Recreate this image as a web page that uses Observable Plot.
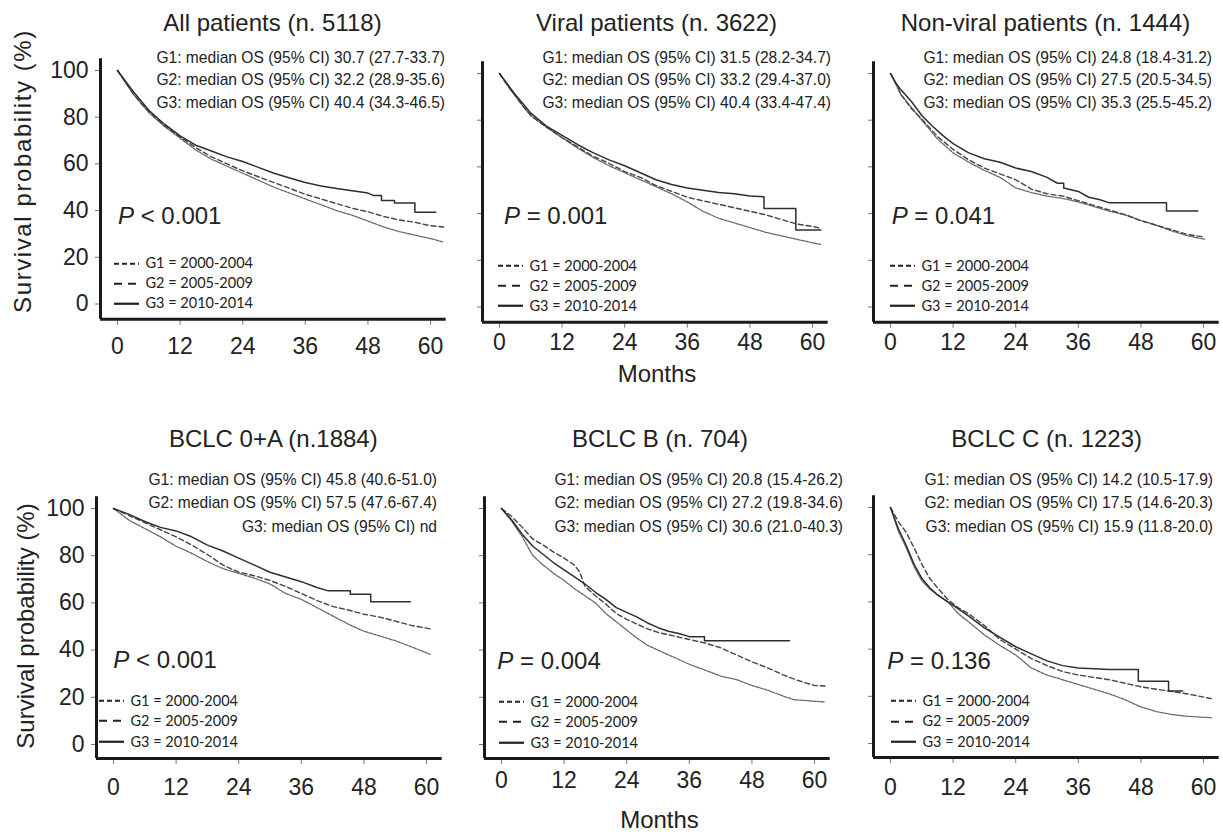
<!DOCTYPE html>
<html><head><meta charset="utf-8">
<script src="https://cdn.jsdelivr.net/npm/d3@7"></script>
<script src="https://cdn.jsdelivr.net/npm/@observablehq/plot@0.6"></script>
<style>
body{margin:0;background:#fff;}
#fig{position:relative;width:1223px;height:834px;overflow:hidden;background:#fff;font-family:"Liberation Sans",Arial,Helvetica,sans-serif;color:#222;}
.abs{position:absolute;white-space:nowrap;line-height:1;}
.c{transform:translate(-50%,-50%);}
.r{transform:translate(-100%,-50%) scaleY(1.1);transform-origin:100% 50%;}
.l{transform:translate(0,-50%);}
.panel{position:absolute;}
.panel svg{overflow:visible;max-width:none;}
.leg{position:absolute;white-space:nowrap;line-height:1;font-family:Lato,"Open Sans",sans-serif;font-size:14.5px;color:#222;transform:translate(0,-50%);}
.leg svg{position:absolute;left:0;top:50%;transform:translate(0,-50%);overflow:visible;}
</style></head><body><div id="fig"></div>
<script>
// ---------------- data ----------------
const monthTicks = [0, 12, 24, 36, 48, 60];
const survivalTicks = [0, 20, 40, 60, 80, 100];
const groups = ["G1", "G2", "G3"];
const legendLabels = ["G1 = 2000-2004", "G2 = 2005-2009", "G3 = 2010-2014"];
const titles = ["All patients (n. 5118)", "Viral patients (n. 3622)", "Non-viral patients (n. 1444)",
  "BCLC 0+A (n.1884)", "BCLC B (n. 704)", "BCLC C (n. 1223)"];
const pValues = ["< 0.001", "= 0.001", "= 0.041", "< 0.001", "= 0.004", "= 0.136"];
const medianTexts = [
  ["G1: median OS (95% CI) 30.7 (27.7-33.7)", "G2: median OS (95% CI) 32.2 (28.9-35.6)", "G3: median OS (95% CI) 40.4 (34.3-46.5)"],
  ["G1: median OS (95% CI) 31.5 (28.2-34.7)", "G2: median OS (95% CI) 33.2 (29.4-37.0)", "G3: median OS (95% CI) 40.4 (33.4-47.4)"],
  ["G1: median OS (95% CI) 24.8 (18.4-31.2)", "G2: median OS (95% CI) 27.5 (20.5-34.5)", "G3: median OS (95% CI) 35.3 (25.5-45.2)"],
  ["G1: median OS (95% CI) 45.8 (40.6-51.0)", "G2: median OS (95% CI) 57.5 (47.6-67.4)", "G3: median OS (95% CI) nd"],
  ["G1: median OS (95% CI) 20.8 (15.4-26.2)", "G2: median OS (95% CI) 27.2 (19.8-34.6)", "G3: median OS (95% CI) 30.6 (21.0-40.3)"],
  ["G1: median OS (95% CI) 14.2 (10.5-17.9)", "G2: median OS (95% CI) 17.5 (14.6-20.3)", "G3: median OS (95% CI) 15.9 (11.8-20.0)"]
];
const yAxisLabel = "Survival probability (%)";
const xAxisLabel = "Months";

// [month, survival %]
const allG1 = [[0,100],[1.5,95],[3,90],[4.5,86],[6,82],[9,76],[12,71],[15,66],[18,62],[21,59],[24,56],[27,53],[30,50],[33,47.5],[36,45],[39,42.5],[42,40],[45,38],[48,35.5],[51,33],[54,31],[57,29.5],[60,28],[62.5,26.5]];
const allG2 = [[0,100],[1.5,95],[3,90],[4.5,86],[6,82.5],[9,76.5],[12,71.5],[15,67],[18,63],[21,60],[24,57],[27,54.5],[30,52],[33,49.5],[36,47],[39,45],[42,43],[45,41],[48,39.5],[51,37.5],[54,36],[57,35],[60,33.5],[62.5,33]];
const allG3 = [[0,100],[1.5,95.5],[3,91],[4.5,87],[6,83],[9,77],[12,72],[15,68],[18,65.5],[21,63],[24,61],[27,58.5],[30,56],[33,54],[36,52],[39,50.5],[42,49.5],[45,48.5],[48,47.5],[49,46.5],[50.6,46.5],[50.6,44.3],[53.1,44.3],[53.1,43.3],[57,43.3],[57,39.3],[61,39.3]];

const viralG1 = [[0,100],[1.5,95],[3,90.5],[4.5,86],[6,82],[9,77],[12,72.5],[15,68],[18,64],[21,60.5],[24,57.5],[27,54.5],[30,51.5],[33,48.5],[36,45],[39,41],[42,38],[45,36],[48,34],[51,32],[54,30.5],[57,29],[60,27.5],[61.6,26.8]];
const viralG2 = [[0,100],[1.5,95],[3,90.5],[4.5,86],[6,82],[9,77],[12,72.5],[15,68.5],[18,64.5],[21,61.5],[24,58],[27,55.5],[30,52],[33,49.5],[36,47],[39,45.5],[42,44],[45,42.5],[48,41],[51,39.5],[54,37.5],[57,35.5],[60,34.5],[61.6,33.7]];
const viralG3 = [[0,100],[1.5,95.5],[3,91],[4.5,87],[6,83],[9,77.5],[12,73.5],[15,69.5],[18,66],[21,63],[24,60.5],[27,57.5],[30,54.5],[33,52.5],[36,51],[39,50],[42,49],[45,48.5],[48,47.5],[50.7,47.2],[50.7,42.2],[56.8,42.2],[56.8,33],[61.6,33]];

const nonViralG1 = [[0,100],[1,95.5],[2,91],[4,85.5],[6,80],[9,72],[12,66],[15,62],[18,58.5],[21,55.5],[24,51],[27,49],[30,47.5],[33,46.5],[36,45],[39,43],[42,41],[45,39.5],[48,37],[51,35],[54,32.5],[57,30.5],[60.2,29]];
const nonViralG2 = [[0,100],[1,96],[2,91],[4,85],[6,80.5],[9,73],[12,67.5],[15,63],[18,59.5],[21,57],[24,54.5],[27,50.5],[30,48.5],[33,47.5],[36,45.5],[39,43.5],[42,41.5],[45,39.5],[48,37],[51,35],[54,33],[57,31],[60.2,30]];
const nonViralG3 = [[0,100],[1,96],[2,93],[4,88],[6,82],[8,77.5],[10,73.5],[12,70],[15,66],[18,63.5],[21,62],[24,59.5],[27,58],[30,55.5],[32,53],[33.2,53],[33.2,51],[36,49.5],[38,47],[40,46],[42,44.6],[52.9,44.6],[52.9,41.1],[58.9,41.1]];

const bclcAG1 = [[0,100],[3,95],[6,91.5],[9,88],[12,84],[15,81],[18,77.5],[21,74.5],[24,72.5],[27,70.5],[30,68],[33,64],[36,61.5],[39,58],[42,54.5],[45,51],[48,48],[51,46],[54,44],[57,41.5],[60.7,38.2]];
const bclcAG2 = [[0,100],[3,97],[6,94],[9,91],[12,88],[15,84.5],[18,80.5],[21,76],[24,73],[27,71.5],[30,69.5],[33,67],[36,64],[39,61],[42,58.5],[45,57],[48,55.2],[51,54],[54,52.3],[57,50.5],[60.7,49]];
const bclcAG3 = [[0,100],[3,97.5],[6,94.5],[9,92],[12,90.5],[15,88],[18,84.5],[21,82],[24,79],[27,76],[30,73],[33,71],[36,69],[39,66.5],[41.2,65.1],[45.4,65.1],[45.4,63.7],[49.3,63.7],[49.3,60.5],[56.9,60.5]];

const bclcBG1 = [[0,100],[2,94.5],[4,88],[6,80],[8,76],[10,72.5],[12,69.5],[14,66],[16,63],[18,60],[20,55.5],[22,52],[24,48.5],[26,45],[28,42],[30,40],[33,37],[36,34],[39,31.5],[42,29],[45,27.5],[48,25],[51,23],[54,20.5],[56,19],[62,18]];
const bclcBG2 = [[0,100],[2,96.5],[4,92],[6,87],[8,84.5],[10,81.5],[12,79],[14,76],[15,73],[16,67],[18,63],[20,59.5],[22,55.5],[24,53],[26,51],[28,49],[30,47.5],[33,46],[36,44.5],[39,43],[42,41],[45,38],[48,35],[51,32.5],[54,29.5],[57,27],[60,25],[62,24.8]];
const bclcBG3 = [[0,100],[2,95],[4,89],[6,84],[8,80.5],[10,77],[12,74],[14,71],[16,68],[18,64.5],[20,61.5],[22,58],[24,56],[26,54],[28,51.5],[30,49.5],[32,48],[34,47],[36,45.7],[38.9,45.7],[38.9,44],[55.2,44]];

const bclcCG1 = [[0,100],[1.5,90],[3,83],[4.5,75],[6,69],[7.5,65.5],[9,63],[11,60],[13,55],[15,51.5],[18,46],[21,41.5],[24,37.5],[27,32],[30,29],[33,27],[36,25],[39,23],[42,21],[45,18.5],[48,15.5],[51,13.5],[54,12.3],[57,11.5],[61.5,10.9]];
const bclcCG2 = [[0,100],[1.5,94],[3,89.5],[4.5,83],[6,76],[7.5,70],[9,66],[11,61],[13,57.5],[15,55],[18,50],[21,44],[24,40],[27,36],[30,33],[33,30.5],[36,29],[39,28],[42,27],[45,25.5],[48,24],[51,23],[54,22],[57,21],[61.5,19]];
const bclcCG3 = [[0,100],[1.5,91],[3,84],[4.5,76],[6,70],[7.5,66],[9,63],[11,60],[13,57],[15,54],[18,49],[21,45],[24,41],[27,38],[30,35],[33,33],[36,32],[42,31.4],[47.5,31.4],[47.5,26.4],[53.3,26.4],[53.3,22.2],[56,22.2]];

const panelSeries = [
  [allG1, allG2, allG3], [viralG1, viralG2, viralG3], [nonViralG1, nonViralG2, nonViralG3],
  [bclcAG1, bclcAG2, bclcAG3], [bclcBG1, bclcBG2, bclcBG3], [bclcCG1, bclcCG2, bclcCG3]
];

// ---------------- layout & style ----------------
const rows = [
  {top: 0, height: 380, k: 2.335, y100: 72, frameBottom: 320.7},
  {top: 436, height: 398, k: 2.36, y100: 72, frameBottom: 322}
];
const layout = [
  {left: 0, shift: -2, tickPad: 12.5, row: 0, showY: true, titleX: 272.5, titleY: 23, medRight: 445, medY: [57.3, 79.3, 101.7], pX: 118, pY: 216, legX: 114, legY: [263.3, 283.3, 303.3]},
  {left: 382, shift: 0.5, tickPad: 5.5, row: 0, showY: false, titleX: 656.5, titleY: 23, medRight: 831, medY: [57.3, 79.3, 101.7], pX: 504, pY: 216, legX: 498, legY: [265.7, 286, 306]},
  {left: 773, shift: 0.5, tickPad: 5.5, row: 0, showY: false, titleX: 1045.5, titleY: 23, medRight: 1212, medY: [57.3, 79.3, 101.7], pX: 891.7, pY: 216, legX: 890, legY: [265.7, 286, 306]},
  {left: -4, shift: -0.5, tickPad: 14.5, row: 1, showY: true, titleX: 273.3, titleY: 439, medRight: 437, medY: [479.3, 501.7, 525.7], pX: 113.3, pY: 660, legX: 99, legY: [700.7, 721, 741.7]},
  {left: 384, shift: -0.5, tickPad: 7, row: 1, showY: false, titleX: 660, titleY: 439, medRight: 843, medY: [479.3, 501.7, 525.7], pX: 497.3, pY: 660.7, legX: 499, legY: [701.7, 722, 742.7]},
  {left: 773, shift: -1, tickPad: 15, row: 1, showY: false, titleX: 1046.7, titleY: 439, medRight: 1213, medY: [479.3, 501.7, 525.7], pX: 887.3, pY: 660.7, legX: 891, legY: [700.7, 721.3, 741.7]}
];
const curveStyle = {
  G1: {stroke: "#6a6a6a", dash: "3,1.2", width: 1.3},
  G2: {stroke: "#454545", dash: "5,3", width: 1.4},
  G3: {stroke: "#2e2e2e", dash: null, width: 1.5}
};
const legendDash = {G1: "5,3", G2: "8,6", G3: null};
const mainFont = '"Liberation Sans", Arial, Helvetica, sans-serif';

const fig = document.getElementById("fig");
const xLo = -3.26, xHi = 63, W = 450, mLeft = 100, pxPerMonth = 5.217;
const mRight = W - mLeft - (xHi - xLo) * pxPerMonth;

function addText(txt, x, y, cls, css) {
  const d = document.createElement("div");
  d.className = "abs " + cls;
  d.style.left = x + "px"; d.style.top = y + "px";
  Object.assign(d.style, css || {});
  d.innerHTML = txt;
  fig.appendChild(d);
  return d;
}

layout.forEach((L, i) => {
  const R = rows[L.row];
  const yTopPx = R.y100 - 5 * R.k;
  const yLo = 100 - (R.frameBottom - R.y100) / R.k;
  const marks = [
    Plot.axisX({ticks: monthTicks, tickSize: 6, tickPadding: L.tickPad, label: null, stroke: "#777", fill: "#222", fontSize: 23}),
    Plot.axisY({ticks: survivalTicks, tickSize: 5, tickPadding: 7, label: null, stroke: "#777", fill: "#222", fontSize: 23,
      tickFormat: L.showY ? (d => String(d)) : (() => "")})
  ];
  panelSeries[i].forEach((pts, g) => {
    const s = curveStyle[groups[g]];
    marks.push(Plot.line(pts, {x: d => d[0], y: d => d[1], stroke: s.stroke, strokeWidth: s.width,
      strokeDasharray: s.dash || undefined, curve: "linear"}));
  });
  marks.push(Plot.ruleX([xLo], {stroke: "#1a1a1a", strokeWidth: 3}));
  marks.push(Plot.ruleY([yLo], {stroke: "#1a1a1a", strokeWidth: 3}));
  const p = Plot.plot({
    width: W, height: R.height,
    marginLeft: mLeft, marginRight: mRight, marginTop: yTopPx, marginBottom: R.height - R.frameBottom,
    x: {domain: [xLo, xHi]},
    y: {domain: [yLo, 105]},
    style: {background: "transparent", fontFamily: mainFont, fontSize: "23px", color: "#222", overflow: "visible"},
    marks
  });
  const wrap = document.createElement("div");
  wrap.className = "panel";
  wrap.style.left = L.left + "px"; wrap.style.top = (R.top + L.shift) + "px";
  wrap.appendChild(p);
  fig.appendChild(wrap);

  addText(titles[i], L.titleX, L.titleY, "c", {fontSize: "24px"});
  medianTexts[i].forEach((t, g) => addText(t, L.medRight, L.medY[g], "r", {fontSize: "15.6px"}));
  addText("<i>P</i> " + pValues[i], L.pX, L.pY, "l", {fontSize: "24px"});
  legendLabels.forEach((lab, g) => {
    const d = document.createElement("div");
    d.className = "leg";
    d.style.left = L.legX + "px"; d.style.top = L.legY[g] + "px";
    d.style.paddingLeft = "31.5px";
    const dash = legendDash[groups[g]];
    d.innerHTML = `<svg width="25" height="4"><line x1="0" y1="2" x2="25" y2="2" stroke="#222" stroke-width="2.2" ${dash ? `stroke-dasharray="${dash}"` : ""}/></svg>` + lab;
    fig.appendChild(d);
  });
});

// axis titles
addText(yAxisLabel, 23, 171, "", {fontSize: "24px", letterSpacing: "1.6px", transform: "translate(-50%,-50%) rotate(-90deg)"});
addText(yAxisLabel, 26, 626, "", {fontSize: "24px", transform: "translate(-50%,-50%) rotate(-90deg)"});
addText(xAxisLabel, 657, 374, "c", {fontSize: "24px"});
addText(xAxisLabel, 659.5, 820, "c", {fontSize: "24px"});
</script></body></html>
